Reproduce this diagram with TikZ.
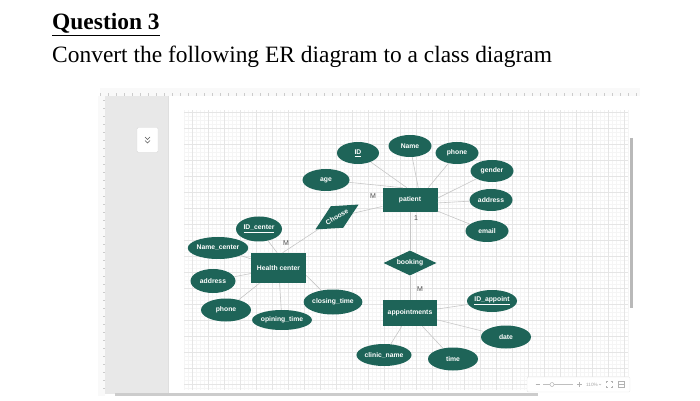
\documentclass[tikz,border=0pt]{standalone}
\usepackage{fontspec}
\setmainfont{Liberation Serif}
\setsansfont{Liberation Sans}
\usetikzlibrary{shapes.geometric}
\definecolor{erteal}{RGB}{30,100,88}
\newdimen\pxu
\pxu=0.03cm

\begin{document}
\begin{tikzpicture}[
    x=0.03cm, y=-0.03cm,
    erfont/.style={font=\sffamily\bfseries\fontsize{5.8}{6}\selectfont},
    attr/.style={ellipse, fill=erteal, text=white, inner sep=0pt, minimum width=46\pxu, minimum height=22\pxu, erfont},
    ent/.style={rectangle, fill=erteal, text=white, inner sep=0pt, minimum width=55\pxu, minimum height=24\pxu, erfont},
    rel/.style={diamond, fill=erteal, text=white, inner sep=0pt, aspect=2, minimum width=53\pxu, minimum height=25\pxu, erfont},
    link/.style={draw=gray!45, line width=0.5pt},
    card/.style={font=\sffamily\fontsize{6}{7}\selectfont, text=black!70, inner sep=0pt}
]
\useasboundingbox (0,0) rectangle (700,401);

\node[anchor=base west, inner sep=0pt, font=\fontsize{20}{24}\selectfont\bfseries] (qtitle) at (52,30) {\underline{Question 3}};
\node[anchor=base west, inner sep=0pt, font=\fontsize{20}{24}\selectfont] (qtext) at (52,63) {Convert the following ER diagram to a class diagram};

\fill[gray!5] (100,88) rectangle (640,96);
\fill[gray!5] (98,96) rectangle (105,396);
\foreach \tx in {100,108,...,636} \draw[gray!40, line width=0.2pt] (\tx,96) -- (\tx,93.5);
\foreach \ty in {100,108,...,392} \draw[gray!40, line width=0.2pt] (105,\ty) -- (102.5,\ty);
\fill[gray!18] (105,96) rectangle (168,394);
\draw[gray!25, line width=0.3pt] (168,96) -- (168,394);
\draw[gray!8, line width=0.2pt, step=0.12cm] (184,110) grid (628,390);
\draw[gray!20, line width=0.3pt, step=0.48cm] (184,110) grid (628,390);
\draw[gray!55, line width=3\pxu] (631,138) -- (631,308);
\draw[gray!40, line width=3\pxu] (115,394) -- (538,394);

\node[draw=gray!30, fill=white, rounded corners=1pt, minimum width=21\pxu, minimum height=25\pxu] (fold) at (147.5,140) {};
\draw[gray!70!black, line width=0.5pt] (145,137) -- (147.5,139.5) -- (150,137) (145,140.5) -- (147.5,143) -- (150,140.5);

\node[draw=gray!20, fill=white, rounded corners=1pt, minimum width=103\pxu, minimum height=15\pxu] (zoombar) at (578.5,384.5) {};
\draw[gray!60, line width=0.4pt] (535.5,384.5) -- (539.5,384.5);
\draw[gray!50, line width=0.4pt] (543,384.5) -- (573,384.5);
\node[draw=gray!60, fill=white, circle, inner sep=0pt, minimum size=4\pxu] (knob) at (552,384.5) {};
\draw[gray!60, line width=0.4pt] (577,384.5) -- (582,384.5) (579.5,382) -- (579.5,387);
\node[font=\sffamily\fontsize{4}{5}\selectfont, text=gray!70, inner sep=0pt] (zoomval) at (592,384.5) {110\%};
\draw[gray!60, line width=0.3pt] (599,384) -- (600,385) -- (601,384);
\draw[gray!60, line width=0.4pt] (606,383) -- (606,381.5) -- (607.5,381.5) (610.5,381.5) -- (612,381.5) -- (612,383) (612,386) -- (612,387.5) -- (610.5,387.5) (607.5,387.5) -- (606,387.5) -- (606,386);
\draw[gray!60, line width=0.4pt] (618,381.5) rectangle (624,387.5) (618,384.5) -- (624,384.5);

\node[ent] (patient) at (410,200) {patient};
\node[ent, minimum height=30\pxu] (hc) at (278.5,268) {Health center};
\node[ent, minimum width=54\pxu, minimum height=26\pxu] (appt) at (410,313) {appointments};
\node[rel] (booking) at (410,263) {booking};
\node[rel, rotate=30, minimum width=50\pxu, minimum height=25\pxu] (choose) at (337,217) {Choose};

\node[attr, minimum width=42\pxu] (id) at (358,153) {\underline{ID}};
\node[attr, minimum width=43\pxu] (name) at (410,146) {Name};
\node[attr, minimum width=47\pxu] (age) at (326,180) {age};
\node[attr, minimum width=43\pxu] (phone) at (457,153) {phone};
\node[attr, minimum width=43\pxu] (gender) at (492,171) {gender};
\node[attr, minimum width=43\pxu] (paddr) at (491,200) {address};
\node[attr, minimum width=43\pxu] (email) at (487,231) {email};

\node[attr, minimum height=25\pxu] (idc) at (259,229) {\underline{ID\_center}};
\node[attr, minimum width=48\pxu] (namec) at (218,248) {Name\_center};
\node[attr, minimum width=45\pxu, minimum height=24\pxu] (haddr) at (213,281) {address};
\node[attr, minimum width=50\pxu, minimum height=23\pxu] (hphone) at (226,310) {phone};
\node[attr, minimum height=20\pxu] (open) at (282,320) {opining\_time};
\node[attr, minimum width=47\pxu, minimum height=25\pxu] (close) at (333,302) {closing\_time};

\node[attr, minimum width=50\pxu] (clinic) at (384,355) {clinic\_name};
\node[attr, minimum width=50\pxu] (ida) at (492,301) {\underline{ID\_appoint}};
\node[attr, minimum width=50\pxu, minimum height=23\pxu] (date) at (506,337) {date};
\node[attr, minimum width=50\pxu, minimum height=23\pxu] (time) at (453,359) {time};

\node[card] (mpat) at (373,196) {M};
\node[card] (mhc) at (286,243) {M};
\node[card] (onepat) at (416,218) {1};
\node[card] (mappt) at (420,289) {M};

\draw[link] (id) -- (patient.104);
\draw[link] (age) -- (patient.120);
\draw[link] (name) -- (patient.56);
\draw[link] (phone) -- (patient.34);
\draw[link] (gender) -- (patient.4);
\draw[link] (paddr) -- (patient.-6);
\draw[link] (email) -- (patient.-22);
\draw[link] (patient) -- (choose);
\draw[link] (choose) -- (hc.75);
\draw[link] (patient) -- (booking);
\draw[link] (booking) -- (appt);
\draw[link] (idc) -- (hc.95);
\draw[link] (namec) -- (hc);
\draw[link] (haddr) -- (hc);
\draw[link] (hphone) -- (hc);
\draw[link] (open) -- (hc);
\draw[link] (close) -- (hc.-15);
\draw[link] (ida) -- (appt);
\draw[link] (date) -- (appt);
\draw[link] (time) -- (appt);
\draw[link] (clinic) -- (appt);
\end{tikzpicture}
\end{document}
